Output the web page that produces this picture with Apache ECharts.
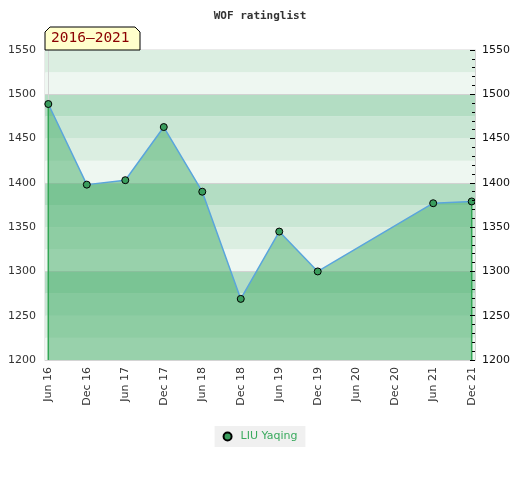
<!DOCTYPE html>
<html>
<head>
<meta charset="utf-8">
<script src="https://cdn.jsdelivr.net/npm/echarts@6/dist/echarts.min.js"></script>
<style>html,body{margin:0;padding:0;background:#fff}#c{width:520px;height:480px}</style>
</head>
<body>
<div id="c"></div>
<script>
const categories = ['Jun 16','Dec 16','Jun 17','Dec 17','Jun 18','Dec 18','Jun 19','Dec 19','Jun 20','Dec 20','Jun 21','Dec 21'];
const ratings = [1489, 1398, 1403, 1463, 1390, 1269, 1345, 1300, null, null, 1377, 1379];
const yTicks = [1200, 1250, 1300, 1350, 1400, 1450, 1500, 1550];
const seriesName = 'LIU Yaqing';
const periodLabel = '2016–2021';

const yMin = yTicks[0], yMax = yTicks[yTicks.length - 1];
const points = [];
ratings.forEach((v, i) => { if (v !== null) points.push([i, v]); });
const first = points[0], last = points[points.length - 1];

const bandColors = ['#eef7f1', '#dbeee1', '#c9e6d4', '#b3ddc3'];
const bands = [];
for (let lo = yMin, k = 0; lo < yMax; lo += 25, k++) {
  bands.push([{ yAxis: lo, itemStyle: { color: bandColors[k % 4], opacity: 1 } }, { yAxis: lo + 25 }]);
}
const hundredLines = [];
for (let v = yMin + 100; v < yMax; v += 100) hundredLines.push({ yAxis: v });

const font = 'DejaVu Sans';
const chart = echarts.init(document.getElementById('c'));
chart.setOption({
  animation: false,
  title: {
    text: 'WOF ratinglist', left: 'center', top: 6,
    textStyle: { fontFamily: 'DejaVu Sans Mono', fontSize: 11, fontWeight: 'bold', color: '#333' }
  },
  grid: { left: 45, right: 45, top: 50, height: 310, show: true, borderColor: '#d4d4d4', borderWidth: 1 },
  xAxis: {
    type: 'value', min: -0.086, max: categories.length - 1 + 0.086,
    axisLine: { show: true, lineStyle: { color: '#d4d4d4' } },
    axisTick: { show: false },
    splitLine: { show: false },
    axisLabel: {
      customValues: categories.map((c, i) => i),
      formatter: v => categories[Math.round(v)],
      rotate: 90, margin: 7, fontFamily: font, fontSize: 11, color: '#333'
    }
  },
  yAxis: [
    {
      type: 'value', min: yMin, max: yMax, interval: 50, position: 'left',
      axisLine: { show: true, lineStyle: { color: '#d4d4d4' } },
      axisTick: { show: false }, splitLine: { show: false },
      axisLabel: { margin: 9, fontFamily: font, fontSize: 11, color: '#333', formatter: v => String(v) }
    },
    {
      type: 'value', min: yMin, max: yMax, interval: 50, position: 'right', z: 20,
      axisLine: { show: true, lineStyle: { color: '#d4d4d4' } },
      axisTick: { show: true, inside: true, length: 5, lineStyle: { color: '#000' } },
      minorTick: { show: true, splitNumber: 5, length: 3, lineStyle: { color: '#000' } },
      splitLine: { show: false },
      axisLabel: { margin: 7, fontFamily: font, fontSize: 11, color: '#111', formatter: v => String(v) }
    }
  ],
  legend: {
    data: [{ name: seriesName, icon: 'circle' }],
    top: 426, left: 'center',
    backgroundColor: '#f0f0f0', padding: [5, 8, 5, 8],
    itemWidth: 8, itemHeight: 8,
    textStyle: { color: '#3aaa5e', fontFamily: font, fontSize: 11, padding: [0, 0, 0, 4] }
  },
  series: [
    {
      name: 'bands', type: 'line', data: [], z: 1, silent: true,
      markArea: { silent: true, z: 0, data: bands },
      markLine: {
        silent: true, z: 1, symbol: 'none', label: { show: false },
        lineStyle: { color: '#d2d2d2', type: 'solid', width: 1 },
        data: hundredLines
      }
    },
    {
      name: seriesName, type: 'line', data: points, z: 3,
      symbol: 'circle', symbolSize: 7,
      itemStyle: { color: '#3a9d5d', borderColor: '#000', borderWidth: 1 },
      lineStyle: { color: '#5aa5dc', width: 1.5 },
      areaStyle: { color: 'rgba(65,171,101,0.5)', opacity: 1, origin: 'start' }
    },
    {
      name: 'edgeL', type: 'line', data: [[first[0], first[1]], [first[0], yMin]], z: 2,
      symbol: 'none', silent: true, lineStyle: { color: '#2ea44f', width: 1.5 }
    },
    {
      name: 'edgeR', type: 'line', data: [[last[0], last[1]], [last[0], yMin]], z: 2,
      symbol: 'none', silent: true, lineStyle: { color: '#2ea44f', width: 1.5 }
    }
  ],
  graphic: [
    {
      type: 'polygon', z: 100,
      shape: { points: [[45, 50], [45, 32], [50, 27], [135, 27], [140, 32], [140, 50]] },
      style: { fill: '#ffffcc', stroke: '#000', lineWidth: 1 }
    },
    {
      type: 'text', z: 101, left: 51, top: 31,
      style: { text: periodLabel, fill: '#8b0000', font: '14.5px "DejaVu Sans Mono"' }
    }
  ]
});
</script>
</body>
</html>
